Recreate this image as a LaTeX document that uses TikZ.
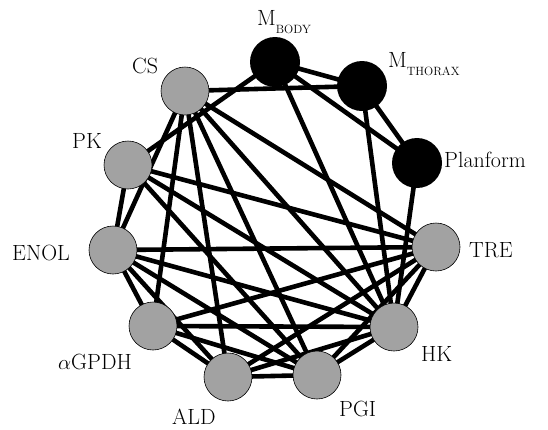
\documentclass[tikz,border=0pt]{standalone}
\usetikzlibrary{backgrounds}
\tikzstyle{enzyme-point}=[circle, draw=black, line width=0.6pt, fill={enzyme}, minimum size=48pt, inner sep=0pt]
\tikzstyle{trait-point}=[circle, fill=black, minimum size=50pt, inner sep=0pt]
\tikzstyle{net-label}=[anchor=base west, inner sep=0pt, font=\fontsize{22}{26}\selectfont]
\tikzstyle{net-edge}=[line width=4.6pt]
\definecolor{enzyme}{HTML}{a2a2a2}
\newcommand{\subtext}[1]{\raisebox{-8pt}{\fontsize{12}{12}\selectfont #1}}

\begin{document}
\begin{tikzpicture}[x=1pt, y=-1pt]
  \useasboundingbox (0,0) rectangle (548,429);
  % trait nodes
  \node (mbody) at (275, 62) [trait-point] {};
  \node (mthorax) at (362, 86) [trait-point] {};
  \node (planform) at (417, 163) [trait-point] {};
  % enzyme nodes
  \node (tre) at (436, 247) [enzyme-point] {};
  \node (hk) at (394, 327) [enzyme-point] {};
  \node (pgi) at (317, 375) [enzyme-point] {};
  \node (ald) at (228, 377) [enzyme-point] {};
  \node (gpdh) at (153, 326) [enzyme-point] {};
  \node (enol) at (113, 250) [enzyme-point] {};
  \node (pk) at (128, 165) [enzyme-point] {};
  \node (cs) at (185, 91) [enzyme-point] {};
  % labels
  \node (mbody-l) at (257, 25) [net-label] {M\subtext{BODY}};
  \node (mthorax-l) at (388, 67) [net-label] {M\subtext{THORAX}};
  \node (planform-l) at (444, 167) [net-label] {Planform};
  \node (tre-l) at (469, 257) [net-label] {TRE};
  \node (hk-l) at (421, 361) [net-label] {HK};
  \node (pgi-l) at (339, 416) [net-label] {PGI};
  \node (ald-l) at (172, 424) [net-label] {ALD};
  \node (gpdh-l) at (58, 369) [net-label] {$\alpha$GPDH};
  \node (enol-l) at (12, 260) [net-label] {ENOL};
  \node (pk-l) at (72, 148) [net-label] {PK};
  \node (cs-l) at (132, 73) [net-label] {CS};
  % edges
  \begin{pgfonlayer}{background}
    \draw[net-edge] (mbody.center) -- (mthorax.center);
    \draw[net-edge] (mbody.center) -- (planform.center);
    \draw[net-edge] (mbody.center) -- (pk.center);
    \draw[net-edge] (mbody.center) -- (hk.center);
    \draw[net-edge] (mthorax.center) -- (cs.center);
    \draw[net-edge] (mthorax.center) -- (planform.center);
    \draw[net-edge] (mthorax.center) -- (hk.center);
    \draw[net-edge] (planform.center) -- (hk.center);
    \draw[net-edge] (tre.center) -- (hk.center);
    \draw[net-edge] (tre.center) -- (cs.center);
    \draw[net-edge] (tre.center) -- (pk.center);
    \draw[net-edge] (tre.center) -- (enol.center);
    \draw[net-edge] (tre.center) -- (gpdh.center);
    \draw[net-edge] (tre.center) -- (ald.center);
    \draw[net-edge] (tre.center) -- (pgi.center);
    \draw[net-edge] (cs.center) -- (enol.center);
    \draw[net-edge] (cs.center) -- (gpdh.center);
    \draw[net-edge] (cs.center) -- (ald.center);
    \draw[net-edge] (cs.center) -- (pgi.center);
    \draw[net-edge] (cs.center) -- (hk.center);
    \draw[net-edge] (pk.center) -- (enol.center);
    \draw[net-edge] (pk.center) -- (hk.center);
    \draw[net-edge] (pk.center) -- (pgi.center);
    \draw[net-edge] (enol.center) -- (gpdh.center);
    \draw[net-edge] (enol.center) -- (hk.center);
    \draw[net-edge] (enol.center) -- (pgi.center);
    \draw[net-edge] (enol.center) -- (ald.center);
    \draw[net-edge] (gpdh.center) -- (hk.center);
    \draw[net-edge] (gpdh.center) -- (pgi.center);
    \draw[net-edge] (gpdh.center) -- (ald.center);
    \draw[net-edge] (ald.center) -- (pgi.center);
    \draw[net-edge] (ald.center) -- (hk.center);
    \draw[net-edge] (pgi.center) -- (hk.center);
  \end{pgfonlayer}
\end{tikzpicture}
\end{document}
